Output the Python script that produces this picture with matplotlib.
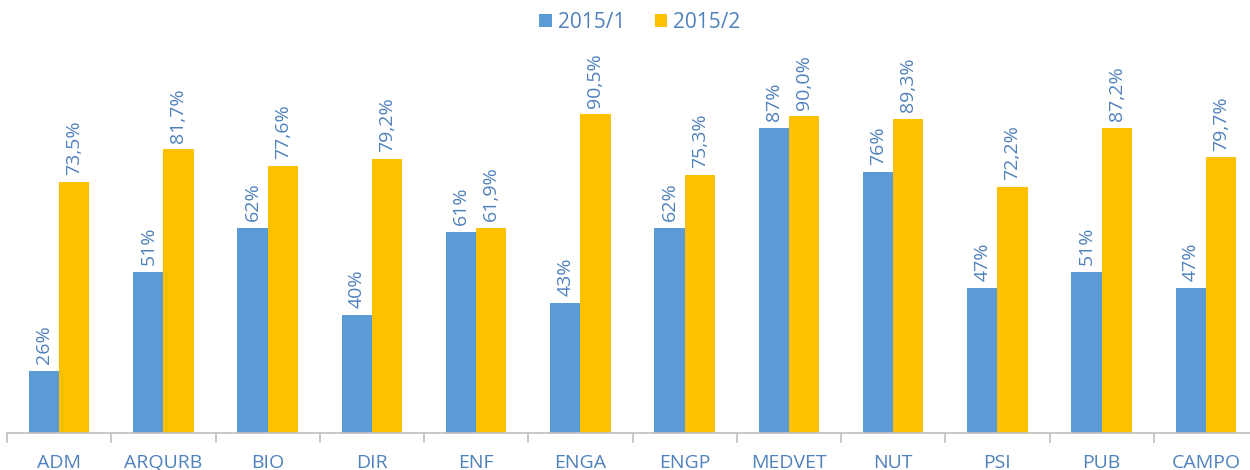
import numpy as np
import matplotlib.pyplot as plt

categories = ['ADM', 'ARQURB', 'BIO', 'DIR', 'ENF', 'ENGA', 'ENGP', 'MEDVET', 'NUT', 'PSI', 'PUB', 'CAMPO']
s1_vals = [26, 51, 62, 40, 61, 43, 62, 87, 76, 47, 51, 47]
s2_vals = [73.5, 81.7, 77.6, 79.2, 61.9, 90.5, 75.3, 90.0, 89.3, 72.2, 87.2, 79.7]
s1_labels = ['26%', '51%', '62%', '40%', '61%', '43%', '62%', '87%', '76%', '47%', '51%', '47%']
s2_labels = ['73,5%', '81,7%', '77,6%', '79,2%', '61,9%', '90,5%', '75,3%', '90,0%', '89,3%', '72,2%', '87,2%', '79,7%']
series_names = ['2015/1', '2015/2']

blue = '#5B9BD5'
gold = '#FFC000'
txt = '#4F81BD'

plt.rcParams['font.family'] = ['Open Sans', 'DejaVu Sans']

fig = plt.figure(figsize=(12.5, 4.7), dpi=100)
ax = fig.add_axes([7 / 1250, 1 - 432.7 / 470, 1251 / 1250, 356 / 470])

x = np.arange(len(categories))
w = 0.29
b1 = ax.bar(x - w / 2, s1_vals, w, color=blue, label=series_names[0])
b2 = ax.bar(x + w / 2, s2_vals, w, color=gold, label=series_names[1])

for xs, vals, labs in [(x - w / 2, s1_vals, s1_labels), (x + w / 2, s2_vals, s2_labels)]:
    for xi, v, lab in zip(xs, vals, labs):
        ax.annotate(lab, (xi, v), xytext=(0, 5), textcoords='offset points',
                    rotation=90, ha='center', va='bottom', color=txt, fontsize=14)

ax.set_ylim(10.5, 100)
ax.set_xlim(-0.5, len(categories) - 0.5)
ax.set_yticks([])
for s in ['top', 'right', 'left']:
    ax.spines[s].set_visible(False)
ax.spines['bottom'].set_color('#BFBFBF')
ax.spines['bottom'].set_linewidth(1.2)

ax.set_xticks(x)
ax.set_xticklabels(categories, color=txt, fontsize=14)
ax.tick_params(axis='x', which='major', length=0, pad=15)
ax.set_xticks(np.arange(len(categories) + 1) - 0.5, minor=True)
ax.tick_params(axis='x', which='minor', length=7, color='#BFBFBF', width=1.2)

fig.legend(handles=[b1, b2], loc='center', bbox_to_anchor=(640 / 1250, 1 - 22 / 470), ncol=2,
           frameon=False, fontsize=15, labelcolor=txt, handlelength=0.6, handleheight=0.6,
           handletextpad=0.3, columnspacing=1.4)

fig.savefig('out.png', dpi=100)
